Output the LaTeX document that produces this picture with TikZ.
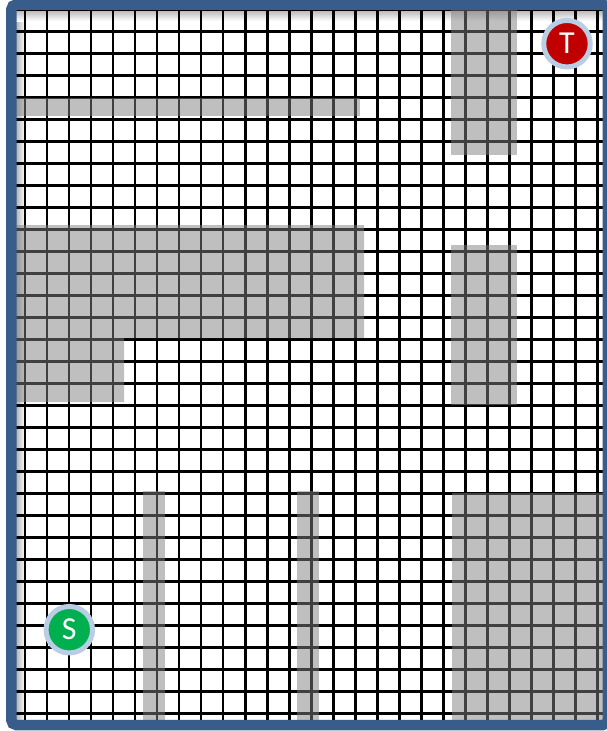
\documentclass[tikz,border=0pt]{standalone}
\usepackage{fontspec}
\setmainfont{Carlito}
\definecolor{framecol}{HTML}{385D8A}
\definecolor{ringcol}{HTML}{B9CDE5}
\definecolor{tred}{HTML}{C00000}
\definecolor{sgreen}{HTML}{00B050}
\begin{document}
\begin{tikzpicture}[x=1pt,y=-1pt,
  gridline/.style={line width=2.8pt, black},
  obstacle/.style={fill=gray, fill opacity=0.5, draw=none},
  frame/.style={draw=framecol, line width=10.5pt, rounded corners=5pt},
  marker/.style={circle, draw=ringcol, line width=5pt, minimum size=46.5pt, inner sep=0pt, text=white, font=\fontsize{32}{32}\selectfont}]
\useasboundingbox (0,0) rectangle (606,731);
\fill[white] (0,0) rectangle (606,731);
\begin{scope}
  \clip (11.3,4.5) rectangle (607.75,725);
  % inner shadow
  \shade[left color=gray!60, right color=white] (16,9) rectangle (25,731);
  \shade[top color=gray!60, bottom color=white] (16,9.5) rectangle (606,21);
  % grid
  \foreach \k in {-1,...,26} \draw[gridline] ({25+22.01*\k},0) -- ({25+22.01*\k},731);
  \foreach \j in {-1,...,31} \draw[gridline] (0,{31.7+21.99*\j}) -- (606,{31.7+21.99*\j});
  % obstacles
  \fill[obstacle] (16,97.5) rectangle (360,115.5);
  \fill[obstacle] (451,9) rectangle (517,155);
  \fill[obstacle] (16,225) -- (364,225) -- (364,338) -- (124,338) -- (124,402) -- (16,402) -- cycle;
  \fill[obstacle] (451,245) rectangle (517,405);
  \fill[obstacle] (452,493) rectangle (610,731);
  \fill[obstacle] (143.3,491) rectangle (165,731);
  \fill[obstacle] (296.7,491) rectangle (319,731);
\end{scope}
\draw[frame] (11.3,4.5) rectangle (607.75,725);
\node[marker, fill=tred] (T) at (567,43.7) {T};
\node[marker, fill=sgreen] (S) at (69.3,629.7) {S};
\end{tikzpicture}
\end{document}
